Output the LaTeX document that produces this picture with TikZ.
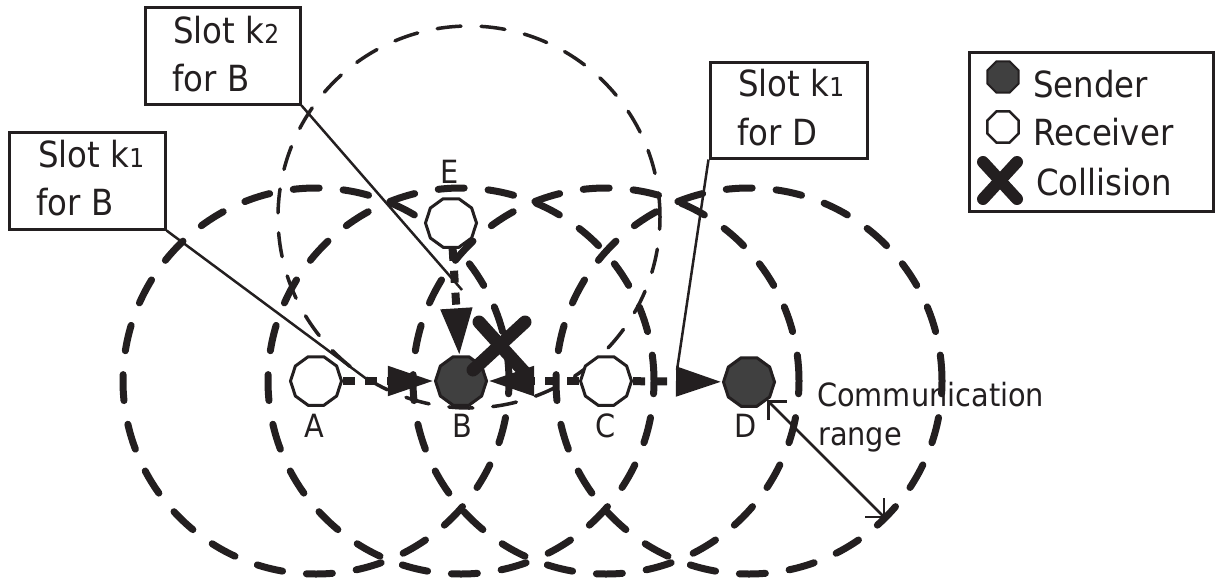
\documentclass[tikz,border=0pt]{standalone}
\usepackage{fontspec}
\setmainfont{DejaVu Sans}[FakeStretch=0.9]
\usetikzlibrary{arrows.meta,shapes.geometric,calc}
\definecolor{ink}{HTML}{231F20}
\definecolor{senderfill}{HTML}{404040}
\newcommand\slotidx[1]{{\fontsize{26}{26}\selectfont #1}}
\begin{document}
\begin{tikzpicture}[x=1pt,y=-1pt,color=ink,
  rangering/.style={line width=7pt,dash pattern=on 26pt off 24pt,line cap=round},
  hearring/.style={line width=3.5pt,dash pattern=on 24pt off 20pt,line cap=round},
  receiver/.style={regular polygon,regular polygon sides=10,draw=ink,line width=3pt,fill=white,minimum size=51pt,inner sep=0pt},
  sender/.style={receiver,fill=senderfill},
  stationtag/.style={font=\fontsize{32}{38}\selectfont,inner sep=0pt,anchor=base},
  flowline/.style={line width=8pt,dash pattern=on 12pt off 10pt,-{Triangle[length=46pt,width=28pt]}},
  slotbox/.style={draw=ink,line width=3pt,inner sep=0pt},
  slottext/.style={font=\fontsize{36}{48}\selectfont,inner sep=0pt,anchor=base west},
  ptrline/.style={line width=2.5pt},
  crossmark/.style={line width=13pt,line cap=round},
  keylabel/.style={font=\fontsize{36}{48}\selectfont,inner sep=0pt,anchor=base west},
]
\useasboundingbox (0,0) rectangle (1215,584);

% communication ranges of A, B, C, D (thick) and of E (thin)
\draw[rangering] (316,381) circle[radius=193pt];
\draw[rangering] (461,381) circle[radius=193pt];
\draw[rangering] (606,381) circle[radius=193pt];
\draw[rangering] (749,381) circle[radius=193pt];
\draw[hearring] (469,217) circle[radius=191pt];

% stations
\node[receiver] (A) at (316,381) {};
\node[sender]   (B) at (461,381) {};
\node[receiver] (C) at (606,381) {};
\node[sender]   (D) at (749,382) {};
\node[receiver] (E) at (451,223) {};

\node[stationtag] (labA) at (314,437) {A};
\node[stationtag] (labB) at (462,437) {B};
\node[stationtag] (labC) at (606,437) {C};
\node[stationtag] (labD) at (746,437) {D};
\node[stationtag] (labE) at (450,183) {E};

% transmissions
\draw[flowline] (A) -- (B);
\draw[flowline,-{Triangle[length=47pt,width=30pt]}] (E) -- (B);
\draw[flowline] (C) -- (B);
\draw[flowline] (C) -- (D);

% collision at B
\coordinate (hit) at (500,346);
\draw[crossmark] ($(hit)+(-27,24)$) -- ($(hit)+(25,-24)$);
\draw[crossmark] ($(hit)+(-21,-24)$) -- ($(hit)+(27,29)$);

% slot annotations
\node[slotbox,minimum width=155pt,minimum height=97pt] (slotBtwo) at (222.5,55.5) {};
\node[slottext] (slotBtwoA) at (173,43) {Slot k\slotidx{2}};
\node[slottext] (slotBtwoB) at (172,91) {for B};
\node[slotbox,minimum width=156pt,minimum height=97pt] (slotBone) at (87,180.5) {};
\node[slottext] (slotBoneA) at (38,167) {Slot k\slotidx{1}};
\node[slottext] (slotBoneB) at (36,215) {for B};
\node[slotbox,minimum width=157pt,minimum height=96pt] (slotDone) at (788.5,110) {};
\node[slottext] (slotDoneA) at (738,96) {Slot k\slotidx{1}};
\node[slottext] (slotDoneB) at (737,145) {for D};
\coordinate (tipBtwo) at (462,290);
\coordinate (tipBone) at (368,380);
\coordinate (tipDone) at (677,370);
\draw[ptrline] (slotBtwo.south east) -- (tipBtwo);
\draw[ptrline] (slotBone.south east) -- (tipBone);
\draw[ptrline] (slotDone.south west) -- (tipDone);

% communication range radius
\coordinate (reach) at (885,518);
\draw[ptrline,{Straight Barb[length=13pt,width=26pt]}-{Straight Barb[length=13pt,width=26pt]}] (D) -- (reach);
\node[stationtag,anchor=base west] (commA) at (817,406) {Communication};
\node[stationtag,anchor=base west] (commB) at (818,445) {range};

% legend
\node[draw=ink,line width=3pt,minimum width=244pt,minimum height=159pt,inner sep=0pt] (legend) at (1091,131.5) {};
\node[sender,regular polygon sides=8,minimum size=34pt,line width=2pt] (keySender) at (1003,77) {};
\node[receiver,regular polygon sides=8,minimum size=34pt,line width=2.5pt] (keyReceiver) at (1003,127) {};
\coordinate (keyHit) at (1000,180);
\draw[crossmark,line width=12pt] ($(keyHit)+(-17,-18)$) -- ($(keyHit)+(17,19)$);
\draw[crossmark,line width=12pt] ($(keyHit)+(17,-18)$) -- ($(keyHit)+(-17,19)$);
\node[keylabel] (keySenderText) at (1033,97) {Sender};
\node[keylabel] (keyReceiverText) at (1033,145) {Receiver};
\node[keylabel] (keyCollisionText) at (1036,195) {Collision};
\end{tikzpicture}
\end{document}
